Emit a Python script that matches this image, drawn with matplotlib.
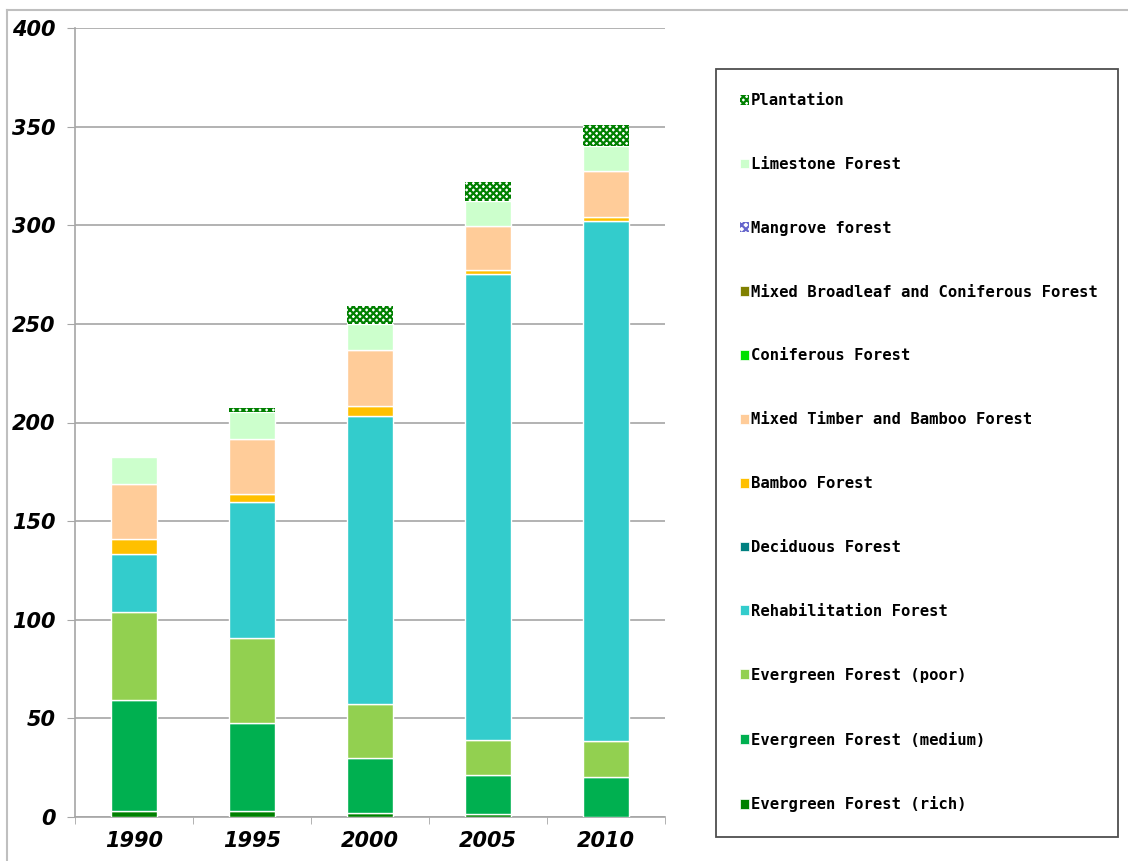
import numpy as np
import matplotlib.pyplot as plt
from matplotlib.patches import Patch
from matplotlib.lines import Line2D

years = ['1990', '1995', '2000', '2005', '2010']

# forest area by type, stacked bottom to top
rich = [2.9, 2.9, 2.2, 1.7, 0.0]
medium = [56.3, 44.6, 27.5, 19.5, 20.3]
poor = [44.6, 43.2, 27.6, 17.8, 18.0]
rehab = [29.4, 69.2, 146.0, 236.1, 264.0]
deciduous = [0, 0, 0, 0, 0]
bamboo = [7.7, 3.8, 5.1, 2.2, 2.1]
mixed_timber = [28.1, 27.8, 28.6, 22.3, 23.1]
coniferous = [0, 0, 0, 0, 0]
mixed_broadleaf = [0, 0, 0, 0, 0]
mangrove = [0, 0, 0, 0, 0]
limestone = [13.5, 13.7, 13.0, 12.7, 12.9]
plantation = [0.0, 2.0, 9.2, 9.8, 10.2]

series = [
    ('Evergreen Forest (rich)', rich, '#008000', None, None),
    ('Evergreen Forest (medium)', medium, '#00B050', None, None),
    ('Evergreen Forest (poor)', poor, '#92D050', None, None),
    ('Rehabilitation Forest', rehab, '#33CCCC', None, None),
    ('Deciduous Forest', deciduous, '#008080', None, None),
    ('Bamboo Forest', bamboo, '#FFC000', None, None),
    ('Mixed Timber and Bamboo Forest', mixed_timber, '#FFCC99', None, None),
    ('Coniferous Forest', coniferous, '#00E000', None, None),
    ('Mixed Broadleaf and Coniferous Forest', mixed_broadleaf, '#808000', None, None),
    ('Mangrove forest', mangrove, '#FFFFFF', 'xxxx', '#6666CC'),
    ('Limestone Forest', limestone, '#CCFFCC', None, None),
    ('Plantation', plantation, '#FFFFFF', 'xxxxx', '#008000'),
]

plt.rcParams['hatch.linewidth'] = 1.6

fig = plt.figure(figsize=(11.28, 8.61), dpi=100)
ax = fig.add_axes([75 / 1128, 44 / 861, 590 / 1128, 789 / 861])

x = np.arange(len(years))
bottom = np.zeros(len(years))
handles = []
for name, vals, color, hatch, hcolor in series:
    vals = np.array(vals, dtype=float)
    if hatch:
        ax.bar(x, vals, 0.39, bottom=bottom, color=color, hatch=hatch,
               edgecolor=hcolor, linewidth=0, zorder=3)
        h = Patch(facecolor=color, hatch=hatch, edgecolor=hcolor, linewidth=0)
    else:
        mask = vals > 0
        ax.bar(x[mask], vals[mask], 0.39, bottom=bottom[mask], color=color,
               edgecolor='white', linewidth=1, zorder=3)
        h = Patch(facecolor=color, edgecolor='white', linewidth=0.5)
    bottom += vals
    handles.append((h, name))

ax.set_xlim(-0.5, len(years) - 0.5)
ax.set_ylim(0, 400)
ax.set_yticks(np.arange(0, 401, 50))
ax.set_xticks(x)
ax.set_xticklabels(years)
ax.set_xticks(np.arange(-0.5, len(years), 1), minor=True)
ax.yaxis.grid(True, color='#a6a6a6', linewidth=1.2, zorder=0)
for s in ['top', 'right']:
    ax.spines[s].set_visible(False)
ax.spines['left'].set_color('#a6a6a6')
ax.spines['bottom'].set_color('#a6a6a6')
ax.spines['left'].set_linewidth(1.2)
ax.spines['bottom'].set_linewidth(1.2)
ax.tick_params(axis='y', length=6, color='#a6a6a6', pad=8)
ax.tick_params(axis='x', which='major', length=0, pad=10)
ax.tick_params(axis='x', which='minor', length=5, color='#a6a6a6')
for lab in ax.get_xticklabels() + ax.get_yticklabels():
    lab.set_family(['Liberation Sans Narrow', 'DejaVu Sans'])
    lab.set_fontweight('bold')
    lab.set_fontstyle('italic')
    lab.set_fontsize(15)

# legend, top entry is the top of the stack
hs = [h for h, n in handles][::-1]
ns = [n for h, n in handles][::-1]
leg = fig.legend(hs, ns, loc='upper left',
                 bbox_to_anchor=(716 / 1128, 1 - 69 / 861 - 0.01, 402 / 1128, 0.01),
                 mode='expand',
                 prop={'family': 'DejaVu Sans Mono', 'weight': 'bold', 'size': 11.2},
                 frameon=True, fancybox=False, edgecolor='#222222',
                 handlelength=0.6, handleheight=0.6, handletextpad=0.1,
                 labelspacing=3.14, borderpad=1.55, borderaxespad=0)
leg.get_frame().set_linewidth(1.3)

# outer chart border
fig.add_artist(Line2D([7 / 1128, 7 / 1128], [0, 1 - 10 / 861], color='#bfbfbf', linewidth=1.5))
fig.add_artist(Line2D([7 / 1128, 1], [1 - 10 / 861, 1 - 10 / 861], color='#bfbfbf', linewidth=1.5))

fig.savefig('out.png', dpi=100)
